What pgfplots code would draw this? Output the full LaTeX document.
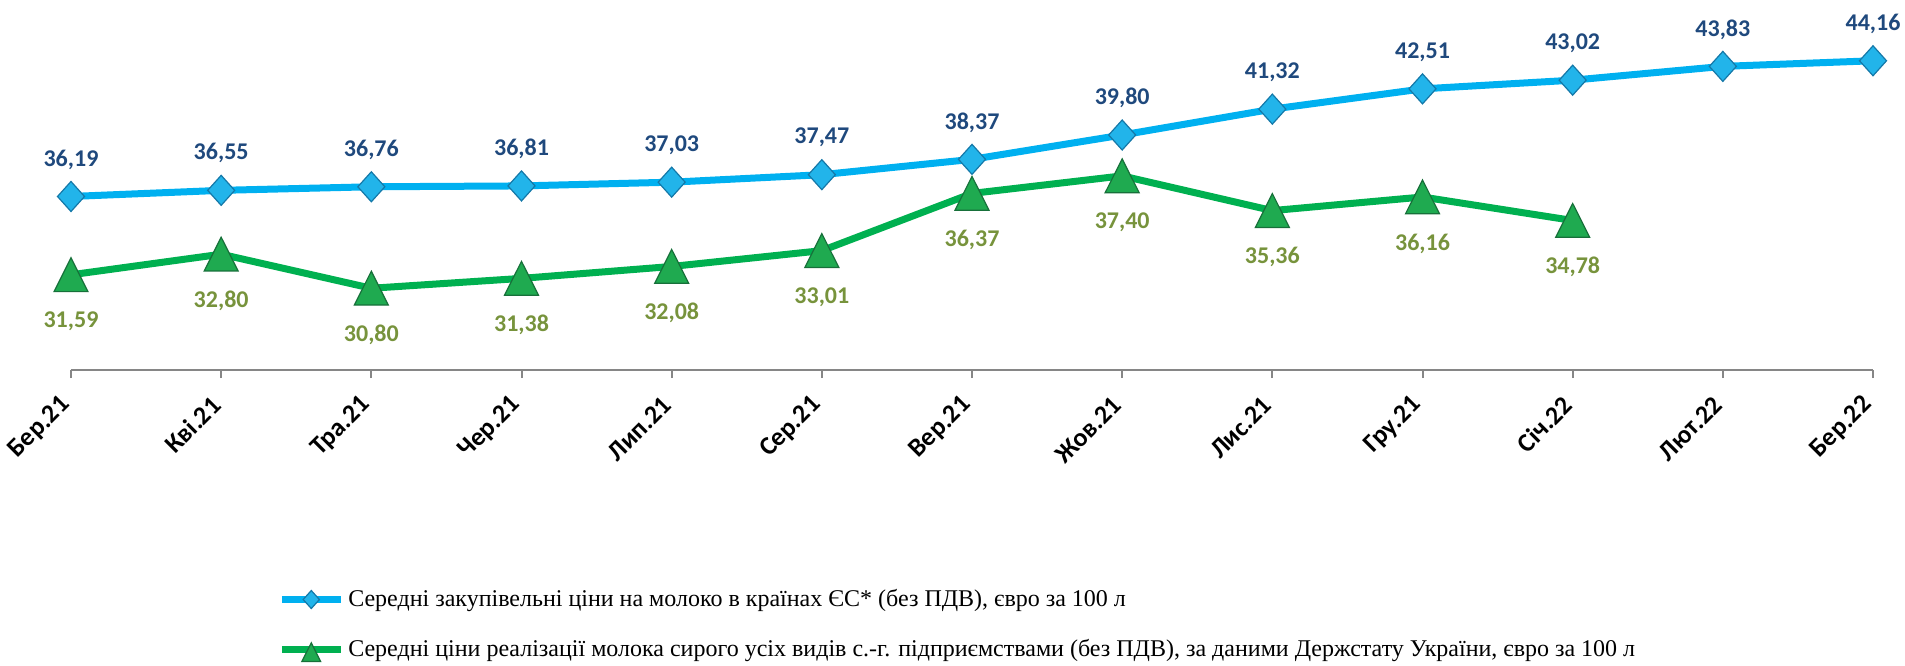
\documentclass[border=0pt]{standalone}
\usepackage{fontspec}
\setmainfont{Liberation Serif}
\newfontfamily\carlito{Carlito}
\usepackage{pgfplots}
\pgfplotsset{compat=1.18}
\definecolor{euline}{HTML}{00B0F0}
\definecolor{ualine}{HTML}{00B050}
\definecolor{eulab}{HTML}{1F497D}
\definecolor{ualab}{HTML}{77933C}
\definecolor{eumark}{HTML}{22B4EA}
\definecolor{eumarkedge}{HTML}{1478A8}
\definecolor{uamark}{HTML}{1FAA50}
\definecolor{uamarkedge}{HTML}{17703A}
\definecolor{axisgray}{HTML}{868686}
\begin{document}
\begin{tikzpicture}
\useasboundingbox (0,0) rectangle (952.5pt,332.5pt);
\begin{axis}[
  at={(35.5pt,147.5pt)}, anchor=south west,
  scale only axis, width=901pt, height=178.8pt,
  xmin=0, xmax=12, ymin=26, ymax=47,
  axis x line*=bottom, axis y line=none,
  x axis line style={axisgray, line width=1pt, -},
  xtick={0,...,12},
  xticklabels={Бер.21,Кві.21,Тра.21,Чер.21,Лип.21,Сер.21,Вер.21,Жов.21,Лис.21,Гру.21,Січ.22,Лют.22,Бер.22},
  tick align=outside, major tick length=4pt,
  tick style={axisgray, line width=1pt},
  xticklabel shift=9pt,
  xticklabel style={font=\carlito\bfseries\fontsize{13}{15}\selectfont, rotate=45, anchor=east, text=black},
  clip=false,
  /pgf/number format/fixed, /pgf/number format/fixed zerofill,
  /pgf/number format/precision=2, /pgf/number format/use comma,
  /pgf/number format/assume math mode=true,
  nodes near coords,
  every node near coord/.append style={font=\carlito\bfseries\fontsize{12}{14}\selectfont, anchor=center},
  legend style={at={(0.1148,-0.712)}, anchor=west, draw=none, fill=none,
    font=\fontsize{12}{14}\selectfont, row sep=11pt, inner sep=0pt},
  legend cell align=left,
]
\addplot[euline, line width=3.5pt, mark=diamond*, mark size=7.5pt,
  mark options={draw=eumarkedge, fill=eumark, line width=0.6pt, xscale=1.2},
  every node near coord/.append style={text=eulab, yshift=18.5pt},
  legend image code/.code={\draw[mark repeat=2,mark phase=2,mark size=4.5pt] plot coordinates {(0pt,0pt)(14.75pt,0pt)(29.5pt,0pt)};}]
table {
x y
0 36.19
1 36.55
2 36.76
3 36.81
4 37.03
5 37.47
6 38.37
7 39.80
8 41.32
9 42.51
10 43.02
11 43.83
12 44.16
};
\addlegendentry{Середні закупівельні ціни на молоко в країнах ЄС* (без ПДВ), євро за 100 л}
\addplot[ualine, line width=3.5pt, mark=triangle*, mark size=9.8pt,
  mark options={draw=uamarkedge, fill=uamark, line width=0.6pt, yscale=1.15, yshift=-2.4pt},
  every node near coord/.append style={text=ualab, yshift=-20.5pt},
  legend image code/.code={\draw[mark repeat=2,mark phase=2,mark size=5.4pt] plot coordinates {(0pt,0pt)(14.75pt,0pt)(29.5pt,0pt)};}]
table {
x y
0 31.59
1 32.80
2 30.80
3 31.38
4 32.08
5 33.01
6 36.37
7 37.40
8 35.36
9 36.16
10 34.78
};
\addlegendentry{Середні ціни реалізації молока сирого усіх видів с.-г. підприємствами (без ПДВ), за даними Держстату України, євро за 100 л}
\end{axis}
\end{tikzpicture}
\end{document}
